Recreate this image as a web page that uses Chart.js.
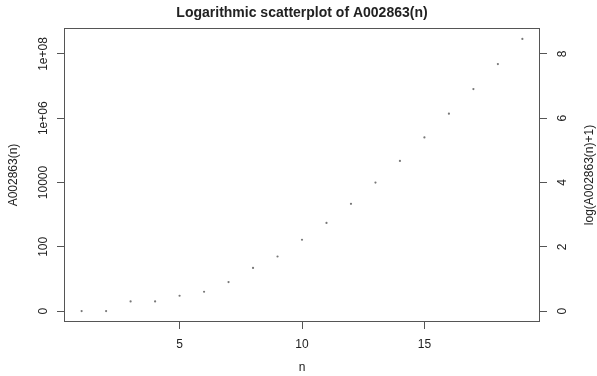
<!DOCTYPE html>
<html>
<head>
<meta charset="utf-8">
<script src="https://cdn.jsdelivr.net/npm/chart.js@4"></script>
<style>
  html, body { margin: 0; padding: 0; background: #fff; }
  canvas { display: block; }
</style>
</head>
<body>
<canvas id="knotChart" width="597" height="376"></canvas>
<script>
// A002863: number of prime knots with n crossings
const nValues = [1, 2, 3, 4, 5, 6, 7, 8, 9, 10, 11, 12, 13, 14, 15, 16, 17, 18, 19];
const counts = [0, 0, 1, 1, 2, 3, 7, 21, 49, 165, 552, 2176, 9988, 46972, 253293,
    1388705, 8053393, 48266466, 294130458];
const xTickValues = [5, 10, 15];
const yTickValues = [0, 2, 4, 6, 8];
const leftTickLabels = ['0', '100', '10000', '1e+06', '1e+08'];
const rightTickLabels = ['0', '2', '4', '6', '8'];

(function () {
    const FONT = '"Liberation Sans", Arial, Helvetica, sans-serif';
    const TEXT = '#222';
    const LINE = '#555';

    const points = nValues.map((n, i) => ({ x: n, y: Math.log10(counts[i] + 1) }));

    // R-style 4% padding on each side of the data range
    const xMinD = Math.min(...nValues), xMaxD = Math.max(...nValues);
    const yMaxD = Math.max(...points.map(p => p.y));
    const xPad = (xMaxD - xMinD) * 0.04;
    const yPad = yMaxD * 0.04;

    const fixTicks = (vals) => (scale) => { scale.ticks = vals.map(v => ({ value: v })); };

    const framePlugin = {
        id: 'frame',
        afterDraw(chart) {
            const { ctx, chartArea: a, scales } = chart;
            ctx.save();
            ctx.strokeStyle = LINE;
            ctx.lineWidth = 1;
            ctx.strokeRect(a.left + 0.5, a.top + 0.5, a.right - a.left - 1, a.bottom - a.top - 1);

            ctx.fillStyle = TEXT;
            ctx.font = '12px ' + FONT;
            ctx.textAlign = 'center';
            ctx.textBaseline = 'middle';

            // rotated y tick labels
            yTickValues.forEach((v, i) => {
                const py = scales.y.getPixelForValue(v);
                ctx.save();
                ctx.translate(44, py);
                ctx.rotate(-Math.PI / 2);
                ctx.fillText(leftTickLabels[i], 0, 0);
                ctx.restore();
                ctx.save();
                ctx.translate(563, py);
                ctx.rotate(-Math.PI / 2);
                ctx.fillText(rightTickLabels[i], 0, 0);
                ctx.restore();
            });

            const midY = (a.top + a.bottom) / 2;
            const midX = (a.left + a.right) / 2;
            ctx.save();
            ctx.translate(14, midY);
            ctx.rotate(-Math.PI / 2);
            ctx.fillText('A002863(n)', 0, 0);
            ctx.restore();
            ctx.save();
            ctx.translate(590, midY);
            ctx.rotate(-Math.PI / 2);
            ctx.fillText('log(A002863(n)+1)', 0, 0);
            ctx.restore();
            ctx.fillText('n', midX, 368);

            ctx.font = 'bold 14px ' + FONT;
            ctx.fillText('Logarithmic scatterplot of A002863(n)', midX, 13);
            ctx.restore();
        }
    };

    const tickGrid = { display: true, drawOnChartArea: false, drawTicks: true, tickLength: 7, color: LINE };

    new Chart(document.getElementById('knotChart'), {
        type: 'scatter',
        data: {
            datasets: [{
                data: points,
                pointStyle: 'circle',
                radius: 1.1,
                borderWidth: 0,
                borderColor: '#777',
                backgroundColor: '#777'
            }]
        },
        options: {
            responsive: false,
            animation: false,
            events: [],
            layout: { padding: { top: 28, left: 0, right: 0, bottom: 0 } },
            plugins: { legend: { display: false }, tooltip: { enabled: false } },
            scales: {
                x: {
                    type: 'linear',
                    min: xMinD - xPad,
                    max: xMaxD + xPad,
                    afterBuildTicks: fixTicks(xTickValues),
                    afterFit: (s) => { s.height = 54; },
                    grid: tickGrid,
                    border: { display: false },
                    ticks: {
                        color: TEXT,
                        padding: 8,
                        font: { family: FONT, size: 12 },
                        maxRotation: 0
                    }
                },
                y: {
                    type: 'linear',
                    position: 'left',
                    min: -yPad,
                    max: yMaxD + yPad,
                    afterBuildTicks: fixTicks(yTickValues),
                    afterFit: (s) => { s.width = 64; },
                    grid: tickGrid,
                    border: { display: false },
                    ticks: { display: false }
                },
                y2: {
                    type: 'linear',
                    position: 'right',
                    min: -yPad,
                    max: yMaxD + yPad,
                    afterBuildTicks: fixTicks(yTickValues),
                    afterFit: (s) => { s.width = 57; },
                    grid: tickGrid,
                    border: { display: false },
                    ticks: { display: false }
                }
            }
        },
        plugins: [framePlugin]
    });
})();
</script>
</body>
</html>
